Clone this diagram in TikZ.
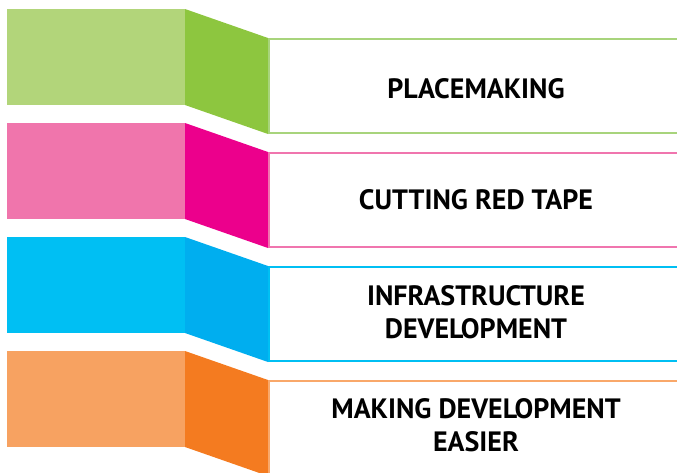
\documentclass[tikz,border=0pt]{standalone}
\usepackage{fontspec}
\setmainfont{PT Sans}
\begin{document}
\begin{tikzpicture}[x=1pt,y=-1pt,
  lab/.style={font=\bfseries\fontsize{28}{33}\selectfont, align=center, text=black, inner sep=0pt},
  boxline/.style={line width=1.6pt}]
\useasboundingbox (0,0) rectangle (677,472);
\definecolor{gL}{HTML}{B2D57A}\definecolor{gD}{HTML}{8DC63F}\definecolor{gB}{HTML}{A8D47C}
\definecolor{pL}{HTML}{F075AC}\definecolor{pD}{HTML}{EC008C}\definecolor{pB}{HTML}{F075AE}
\definecolor{cL}{HTML}{00BFF3}\definecolor{cD}{HTML}{00AEEF}\definecolor{cB}{HTML}{00BFF3}
\definecolor{oL}{HTML}{F7A261}\definecolor{oD}{HTML}{F47B20}\definecolor{oB}{HTML}{F9A86A}
\foreach \T/\L/\D/\B/\txt/\n/\dy in {9/gL/gD/gB/PLACEMAKING/a/80, 123/pL/pD/pB/CUTTING RED TAPE/b/77, 237/cL/cD/cB/INFRASTRUCTURE\\DEVELOPMENT/c/75, 351/oL/oD/oB/MAKING DEVELOPMENT\\EASIER/d/74.5}{
  \fill[\L] (7,\T) rectangle (185,\T+96);
  \fill[\D] (185,\T) -- (268,\T+29) -- (268,\T+125) -- (185,\T+96) -- cycle;
  \draw[boxline,\B] (680,\T+29.8) -- (268.8,\T+29.8) -- (268.8,\T+124.2) -- (680,\T+124.2);
  \node[lab] (\n) at (476,\T+\dy) {\txt};
}
\end{tikzpicture}
\end{document}
